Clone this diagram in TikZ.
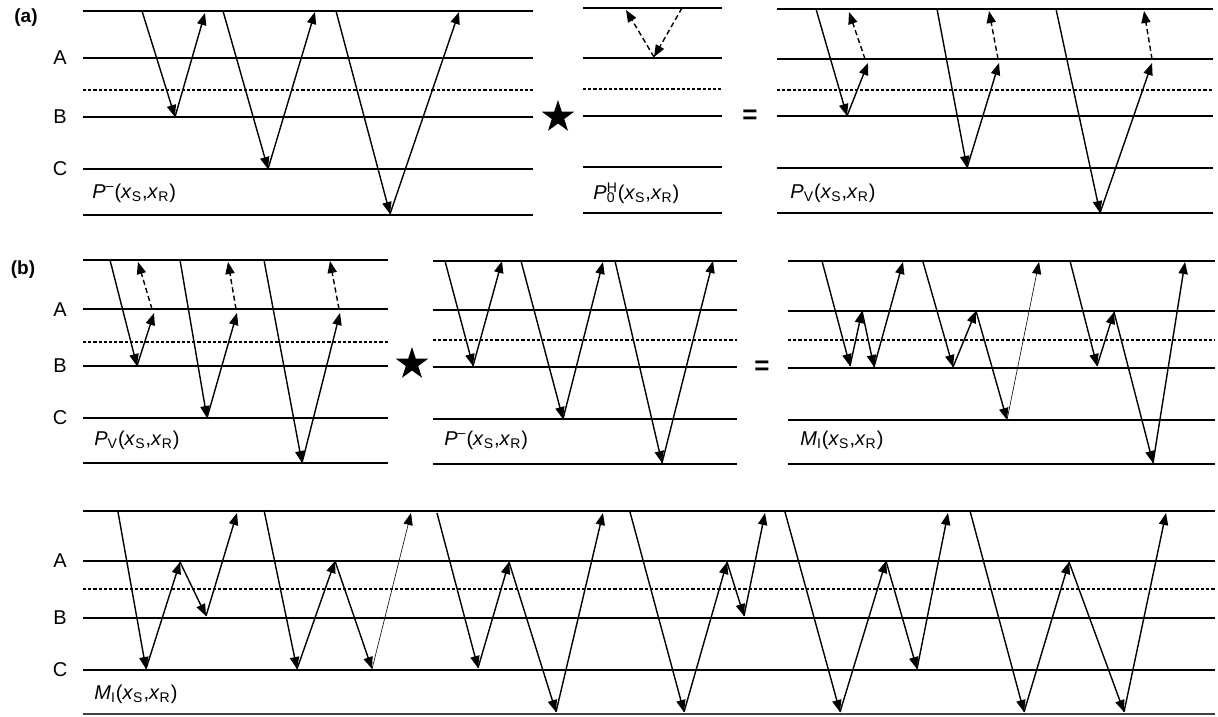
\documentclass[tikz,border=0pt]{standalone}
\usepackage{fontspec}
\setmainfont{Liberation Sans}
\usetikzlibrary{arrows.meta,shapes.geometric}

% horizontal layers of one panel: x1, x2, top, A, dashed, B, C, bottom
\newcommand\layers[8]{%
  \foreach \yy in {#3,#4,#6,#7,#8} \draw[layer] (#1,\yy) -- (#2,\yy);
  \draw[interface] (#1,#5) -- (#2,#5);}
% one ray path, an arrow on every leg
\newcommand\raypath[2][]{%
  \foreach \px/\py [count=\i, remember=\px as \lx, remember=\py as \ly] in {#2}{%
    \ifnum\i>1 \draw[ray,#1] (\lx,\ly) -- (\px,\py);\fi}}
\newcommand\xsxr{(\textit{x}\textsubscript{S},\textit{x}\textsubscript{R})}

\begin{document}
\begin{tikzpicture}[x=0.5pt, y=-0.5pt,
  layer/.style={line width=0.7pt},
  interface/.style={line width=0.95pt, dash pattern=on 1.6pt off 1pt},
  ray/.style={line width=0.7pt, -{Triangle[length=6pt,width=4.6pt]}},
  rayd/.style={dash pattern=on 2.6pt off 1.6pt},
  thinray/.style={line width=0.3pt},
  every node/.style={font=\fontsize{10}{12}\selectfont, inner sep=0pt},
  depth/.style={font=\fontsize{10}{12}\selectfont},
  conv/.style={star, star points=5, star point ratio=2.6, fill, minimum size=17pt}]
\useasboundingbox (0,0) rectangle (1218,716);

% ---- (a)
\node[font=\bfseries\fontsize{9.5}{11}\selectfont] (a) at (26,18) {(a)};
\node[depth] (a-A) at (60,58) {A};
\node[depth] (a-B) at (60,117) {B};
\node[depth] (a-C) at (60,169) {C};
\layers{83}{533}{11}{58}{90}{117}{169}{215}
\layers{583}{722}{8}{58}{89}{116}{167}{213}
\layers{777}{1213}{9}{59}{90}{116}{168}{213}
\node[conv] (a-star) at (558,117) {};
\node[font=\bfseries\fontsize{13}{14}\selectfont] (a-eq) at (750,117) {=};
\node[anchor=west] (a-P) at (92,193) {\textit{P}\textsuperscript{--}\xsxr};
\node[anchor=west] (a-P0) at (593,193) {\textit{P}\rlap{\textsubscript{0}}\textsuperscript{H}\xsxr};
\node[anchor=west] (a-PV) at (790,193) {\textit{P}\textsubscript{V}\xsxr};
% P^-
\raypath{142/11,175/117,205/13}
\raypath{223/11,268/169,315/12}
\raypath{336/11,390/214,459/12}
% P_0^H
\raypath[rayd]{682/8,654/57,626/10}
% P_V
\raypath{816/9,847/116,868/63}
\raypath[rayd]{865/59,849/12}
\raypath{937/9,967/168,999/63}
\raypath[rayd]{998/59,989/11}
\raypath{1056/9,1100/213,1152/63}
\raypath[rayd]{1152/59,1144/11}

% ---- (b)
\node[font=\bfseries\fontsize{9.5}{11}\selectfont] (b) at (23,270) {(b)};
\node[depth] (b-A) at (60,310) {A};
\node[depth] (b-B) at (60,366) {B};
\node[depth] (b-C) at (60,418) {C};
\layers{83}{388}{260}{309}{342}{366}{418}{463}
\layers{433}{737}{261}{310}{340}{367}{419}{464}
\layers{788}{1215}{261}{311}{340}{368}{420}{464}
\node[conv] (b-star) at (412,364) {};
\node[font=\bfseries\fontsize{13}{14}\selectfont] (b-eq) at (762,368) {=};
\node[anchor=west] (b-PV) at (94,440) {\textit{P}\textsubscript{V}\xsxr};
\node[anchor=west] (b-P) at (444,440) {\textit{P}\textsuperscript{--}\xsxr};
\node[anchor=west] (b-MI) at (800,440) {\textit{M}\textsubscript{I}\xsxr};
% P_V
\raypath{110/260,137/366,154/313}
\raypath[rayd]{152/309,138/262}
\raypath{180/260,207/418,237/313}
\raypath[rayd]{236/309,228/262}
\raypath{264/260,302/463,340/313}
\raypath[rayd]{339/309,330/261}
% P^-
\raypath{445/261,473/366,502/261}
\raypath{521/261,563/419,603/262}
\raypath{615/261,662/463,713/261}
% M_I
\raypath{822/261,850/366,862/311,874/367,903/262}
\raypath{923/262,953/367,976/311,1007/420}
\raypath[thinray]{1007/420,1039/262}
\raypath{1070/261,1097/366,1114/312,1153/463,1185/262}

% ---- all internal multiples
\node[depth] (c-A) at (60,561) {A};
\node[depth] (c-B) at (60,618) {B};
\node[depth] (c-C) at (60,670) {C};
\layers{83}{1215}{511}{561}{589}{618}{670}{670}
\draw[line width=1.1pt, black!75] (83,714) -- (1215,714);
\node[anchor=west] (c-MI) at (94,694) {\textit{M}\textsubscript{I}\xsxr};
\raypath{118/512,146/669,180/562,206/616,237/513}
\raypath{264/510,297/669,335/561,372/669}
\raypath[thinray]{372/669,411/513}
\raypath{437/513,478/668,509/562,556/712,603/513}
\raypath{630/512,684/712,727/562,744/616,765/513}
\raypath{785/512,840/712,886/561,917/669,948/513}
\raypath{970/511,1024/712,1069/562,1124/712,1166/513}
\end{tikzpicture}
\end{document}
